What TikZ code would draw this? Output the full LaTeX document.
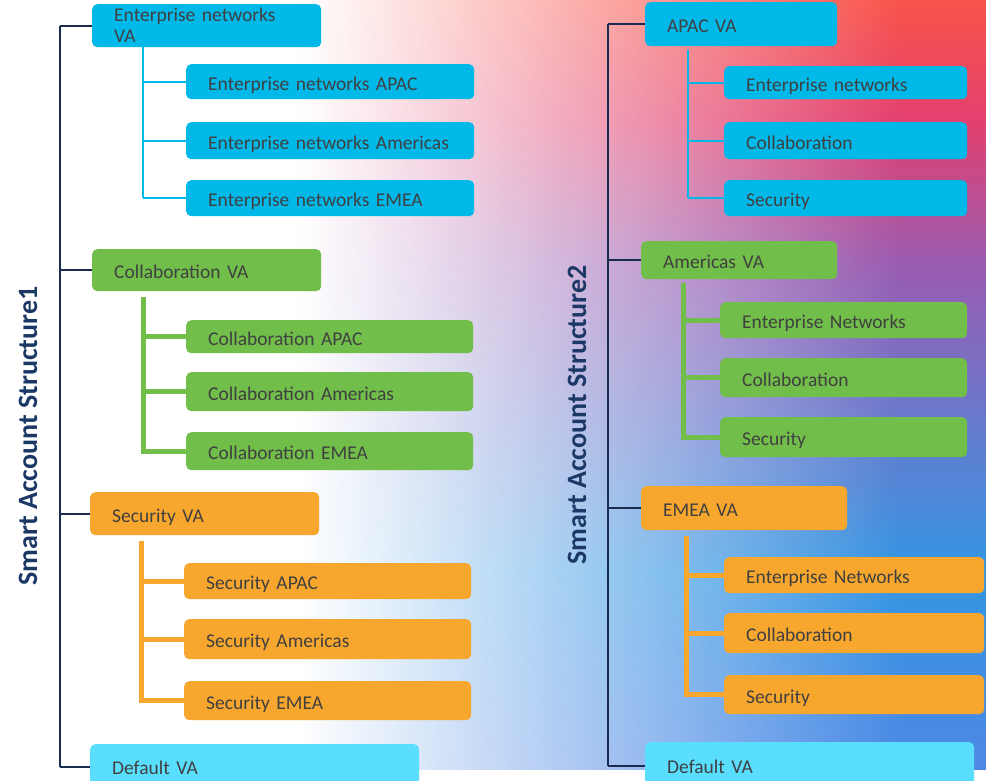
\documentclass[tikz,border=0pt]{standalone}
\usepackage{fontspec}
\setmainfont{Carlito}
\usetikzlibrary{fadings}
\definecolor{cyanbox}{HTML}{00B9E9}
\definecolor{greenbox}{HTML}{71BE4A}
\definecolor{orangebox}{HTML}{F8A72E}
\definecolor{defbox}{HTML}{59DEFE}
\definecolor{txt}{HTML}{404040}
\definecolor{navy}{HTML}{1A2B50}
\definecolor{titlec}{HTML}{1B3866}
\definecolor{bgred}{HTML}{F9544A}
\definecolor{bgpink}{HTML}{E2406F}
\definecolor{bgpurple}{HTML}{9A5BB0}
\definecolor{bgmid}{HTML}{6A78CC}
\definecolor{bgblue}{HTML}{3396E3}
\definecolor{bgbot}{HTML}{4E88E5}
\pgfdeclareverticalshading{bgv}{100bp}{color(0bp)=(bgbot); color(25bp)=(bgbot); color(38bp)=(bgblue); color(48bp)=(bgmid); color(58bp)=(bgpurple); color(67bp)=(bgpink); color(75bp)=(bgred); color(100bp)=(bgred)}
\tikzfading[name=whitefade, left color=transparent!0, right color=transparent!100]
\newcommand\mkbox[7]{%
  \pgfmathsetmacro\mybw{#5-#3-44}%
  \pgfmathsetmacro\mybh{#6-#4}%
  \node[#1, minimum height=\mybh pt, text width=\mybw pt] (#2) at (#3,#4) {#7};}
\tikzset{
  boxbase/.style={anchor=north west, rounded corners=5pt, inner xsep=22pt, inner ysep=0pt,
    align=left, text=txt, font=\fontsize{19.5}{22}\selectfont},
  box/.style={boxbase, text height=17pt, text depth=0pt},
  cbox/.style={box, fill=cyanbox},
  gbox/.style={box, fill=greenbox},
  obox/.style={box, fill=orangebox},
  dbox/.style={boxbase, text height=14pt, text depth=0pt, fill=defbox},
  navyline/.style={draw=navy, line width=2pt},
  cline/.style={draw=cyanbox, line width=2pt},
  gline/.style={draw=greenbox, line width=5pt},
  oline/.style={draw=orangebox, line width=5pt},
  titlestyle/.style={rotate=90, text=titlec, font=\fontsize{28}{32}\selectfont\bfseries, inner sep=0pt}
}
\begin{document}
\begin{tikzpicture}[x=1pt,y=-1pt]
\useasboundingbox (0,0) rectangle (986,781);
% background
\shade[shading=bgv] (0,0) rectangle (986,770);
\fill[white] (-5,-5) rectangle (300,781);
\fill[white, path fading=whitefade] (300,-5) rectangle (900,781);
\fill[white] (-5,770) rectangle (991,786);

% ---------- Structure 1 ----------
\node[titlestyle] (t1) at (28,436) {Smart Account Structure1};
\mkbox{boxbase, fill=cyanbox}{ent}{92}{4}{321}{47}{Enterprise networks\\[-1pt]VA}
\mkbox{cbox}{e1}{186}{64}{474}{99}{Enterprise networks APAC}
\mkbox{cbox}{e2}{186}{122}{474}{159}{Enterprise networks Americas}
\mkbox{cbox}{e3}{186}{180}{474}{216}{Enterprise networks EMEA}
\mkbox{gbox}{col}{92}{249}{321}{291}{Collaboration VA}
\mkbox{gbox}{c1}{186}{320}{473}{353}{Collaboration APAC}
\mkbox{gbox}{c2}{186}{372}{473}{411}{Collaboration Americas}
\mkbox{gbox}{c3}{186}{432}{473}{470}{Collaboration EMEA}
\mkbox{obox}{sec}{90}{492}{319}{535}{Security VA}
\mkbox{obox}{s1}{184}{563}{471}{599}{Security APAC}
\mkbox{obox}{s2}{184}{619}{471}{659}{Security Americas}
\mkbox{obox}{s3}{184}{681}{471}{720}{Security EMEA}
\mkbox{dbox}{d1}{90}{744}{419}{790}{Default VA}

\coordinate (spA) at (60,0);
\coordinate (subA1) at (143,0);
\coordinate (subA2) at (143,0);
\coordinate (subA3) at (141,0);
\draw[navyline] (spA |- ent.west) -- (spA |- d1.west);
\foreach \n in {ent,col,sec,d1} \draw[navyline] (spA |- \n.west) -- (\n.west);
\draw[cline] (subA1 |- ent.south) -- (subA1 |- e3.west);
\foreach \n in {e1,e2,e3} \draw[cline] (subA1 |- \n.west) -- (\n.west);
\draw[gline, shorten <=6pt] (subA2 |- col.south) -- ([yshift=-2.5pt]subA2 |- c3.west);
\foreach \n in {c1,c2,c3} \draw[gline] (subA2 |- \n.west) -- (\n.west);
\draw[oline, shorten <=6pt] (subA3 |- sec.south) -- ([yshift=-2.5pt]subA3 |- s3.west);
\foreach \n in {s1,s2,s3} \draw[oline] (subA3 |- \n.west) -- (\n.west);

% ---------- Structure 2 ----------
\node[titlestyle] (t2) at (577,415) {Smart Account Structure2};
\mkbox{cbox}{apac}{645}{2}{837}{46}{APAC VA}
\mkbox{cbox}{p1}{724}{66}{967}{99}{Enterprise networks}
\mkbox{cbox}{p2}{724}{122}{967}{159}{Collaboration}
\mkbox{cbox}{p3}{724}{180}{967}{216}{Security}
\mkbox{gbox}{amer}{641}{241}{837}{279}{Americas VA}
\mkbox{gbox}{a1}{720}{302}{967}{338}{Enterprise Networks}
\mkbox{gbox}{a2}{720}{358}{967}{397}{Collaboration}
\mkbox{gbox}{a3}{720}{417}{967}{457}{Security}
\mkbox{obox}{emea}{641}{486}{847}{530}{EMEA VA}
\mkbox{obox}{m1}{724}{557}{984}{593}{Enterprise Networks}
\mkbox{obox}{m2}{724}{613}{984}{653}{Collaboration}
\mkbox{obox}{m3}{724}{675}{984}{714}{Security}
\mkbox{dbox}{d2}{645}{742}{974}{790}{Default VA}

\coordinate (spB) at (608,0);
\coordinate (subB1) at (688,0);
\coordinate (subB2) at (683,0);
\coordinate (subB3) at (686,0);
\draw[navyline] (spB |- apac.west) -- (spB |- d2.west);
\foreach \n in {apac,amer,emea,d2} \draw[navyline] (spB |- \n.west) -- (\n.west);
\draw[cline, shorten <=4pt] (subB1 |- apac.south) -- (subB1 |- p3.west);
\foreach \n in {p1,p2,p3} \draw[cline] (subB1 |- \n.west) -- (\n.west);
\draw[gline, shorten <=4pt] (subB2 |- amer.south) -- ([yshift=-2.5pt]subB2 |- a3.west);
\foreach \n in {a1,a2,a3} \draw[gline] (subB2 |- \n.west) -- (\n.west);
\draw[oline, shorten <=6pt] (subB3 |- emea.south) -- ([yshift=-2.5pt]subB3 |- m3.west);
\foreach \n in {m1,m2,m3} \draw[oline] (subB3 |- \n.west) -- (\n.west);
\end{tikzpicture}
\end{document}
